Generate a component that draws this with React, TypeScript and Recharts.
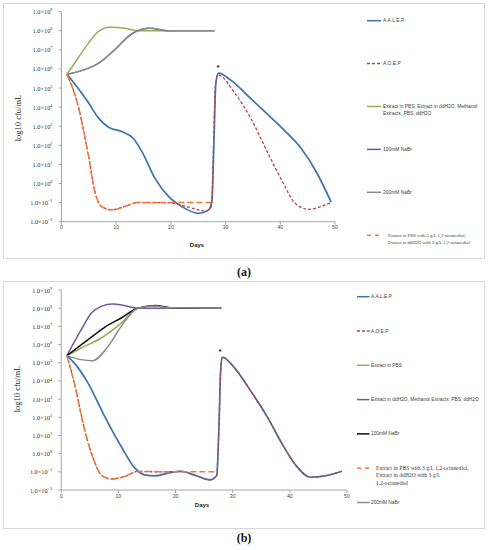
import React from "react";
import { LineChart, Line, XAxis, YAxis, ReferenceDot } from "recharts";

// x axis: days, y axis: log10 cfu/mL (ticks drawn as 1.0×10^n)
const DAY_TICKS = [0, 10, 20, 30, 40, 50];
const LOG_TICKS = [-2, -1, 0, 1, 2, 3, 4, 5, 6, 7, 8, 9];

// ---- panel (a) ----
const aalepDaysA = [1, 3, 5, 6.7, 8.6, 11, 13.1, 14.7, 17.1, 19.6, 22, 25.1, 26.9, 27.5, 27.9, 28.2, 28.7, 31, 34.6, 37.6, 40.7, 43.8, 46.8, 49.3];
const aalepLogA = [5.72, 5.0, 4.2, 3.45, 2.95, 2.72, 2.37, 1.67, 0.27, -0.69, -1.21, -1.56, -1.38, -0.9, 2.5, 5.2, 5.78, 5.4, 4.45, 3.65, 2.8, 1.85, 0.5, -0.98];

const aoepDaysA = [1, 3, 4.9, 6.1, 7.3, 9.2, 11.6, 13.8, 17, 20, 23, 26.5, 27.4, 27.8, 28.1, 28.6, 31.5, 34.6, 37.6, 40.7, 42.3, 43.8, 45.3, 47, 49.3];
const aoepLogA = [5.72, 4.11, 1.5, -0.42, -1.2, -1.38, -1.2, -1.0, -1.0, -1.02, -1.22, -1.45, -1.2, 2.0, 5.0, 5.69, 4.81, 3.42, 1.67, -0.07, -0.9, -1.25, -1.35, -1.25, -0.98];

const extractsDaysA = [1, 3, 4.9, 6.7, 8.8, 11.6, 14, 17, 21];
const extractsLogA = [5.72, 6.56, 7.34, 7.95, 8.18, 8.13, 8.0, 8.0, 8.0];

const nabr100DaysA = [1, 4.8, 7, 9.7, 13, 16.2, 19.5, 28];
const nabr100LogA = [5.72, 6.03, 6.35, 7.0, 7.87, 8.13, 8.0, 8.0];

const nabr200DaysA = [1, 4.8, 7, 9.7, 13, 16.2, 19.5, 28];
const nabr200LogA = [5.72, 6.03, 6.35, 7.0, 7.87, 8.13, 8.0, 8.0];

const octDaysA = [1, 3, 4.9, 6.1, 7.3, 9.2, 11.6, 13.8, 20, 27.5];
const octLogA = [5.72, 4.11, 1.5, -0.42, -1.2, -1.38, -1.2, -1.0, -1.0, -1.0];

// ---- panel (b) ----
const aalepDaysB = [1, 2.3, 4.7, 7.6, 10.5, 12.9, 14.6, 16.4, 18.7, 21, 23.5, 26, 27.2, 27.6, 27.9, 28.2, 30.1, 33, 36, 38.9, 41.2, 43.6, 45.9, 49.1];
const aalepLogB = [5.39, 4.98, 3.88, 2.05, 0.39, -0.8, -1.17, -1.22, -1.07, -0.98, -1.2, -1.44, -1.2, 1.5, 4.6, 5.31, 4.8, 3.52, 2.05, 0.4, -0.7, -1.3, -1.24, -0.97];

const aoepDaysB = [1, 2.3, 4.1, 5.8, 7, 8.8, 11.1, 13.4, 17, 21, 23.5, 26, 27.2, 27.6, 27.9, 28.2, 30.1, 33, 36, 38.9, 41.2, 43.6, 45.9, 49.1];
const aoepLogB = [5.39, 3.88, 1.31, -0.43, -1.17, -1.4, -1.26, -0.98, -1.0, -0.98, -1.2, -1.44, -1.2, 1.5, 4.6, 5.31, 4.8, 3.52, 2.05, 0.4, -0.7, -1.3, -1.24, -0.97];

const pbsDaysB = [1, 3.5, 7, 10.5, 13.4, 16.5, 19, 28];
const pbsLogB = [5.39, 5.81, 6.36, 7.18, 8.0, 8.1, 8.02, 8.0];

const ddh2oDaysB = [1, 3.5, 5.3, 7, 9, 11, 13.4, 20, 28];
const ddh2oLogB = [5.39, 6.82, 7.73, 8.1, 8.23, 8.15, 8.0, 8.0, 8.0];

const nabr100DaysB = [1, 4.7, 7.6, 10.5, 13.4, 16.5, 19, 28];
const nabr100LogB = [5.39, 6.27, 6.95, 7.46, 8.0, 8.15, 8.03, 8.0];

const nabr200DaysB = [1, 3.5, 5.5, 8.2, 10.5, 13.4, 16.5, 19, 28];
const nabr200LogB = [5.39, 5.17, 5.11, 5.9, 7.0, 8.0, 8.12, 8.02, 8.0];

const octDaysB = [1, 2.3, 4.1, 5.8, 7, 8.8, 11.1, 13.4, 20, 27.2];
const octLogB = [5.39, 3.88, 1.31, -0.43, -1.17, -1.4, -1.26, -0.98, -1.0, -1.0];

// asterisk over the re-inoculation peak
const starA = { day: 28.6, log: 6.1 };
const starB = { day: 27.8, log: 5.6 };

const C = {
  blue: "#3A73B0",
  red: "#B8453E",
  green: "#8DB255",
  purple: "#7458A0",
  gray: "#8C8C8C",
  orange: "#EA7A35",
  black: "#111111",
};
const RED_DASH = "3 2";
const ORANGE_DASH = "6 3";

type Pt = { day: number; log: number };
const zip = (days: number[], logs: number[]): Pt[] =>
  days.map((d, i) => ({ day: d, log: logs[i] }));

type Series = { key: string; data: Pt[]; color: string; dash?: string; width?: number };

const seriesA: Series[] = [
  { key: "extracts", data: zip(extractsDaysA, extractsLogA), color: C.green },
  { key: "nabr100", data: zip(nabr100DaysA, nabr100LogA), color: C.purple },
  { key: "nabr200", data: zip(nabr200DaysA, nabr200LogA), color: C.gray },
  { key: "aalep", data: zip(aalepDaysA, aalepLogA), color: C.blue, width: 1.7 },
  { key: "aoep", data: zip(aoepDaysA, aoepLogA), color: C.red, dash: RED_DASH, width: 1.3 },
  { key: "oct", data: zip(octDaysA, octLogA), color: C.orange, dash: ORANGE_DASH },
];

const seriesB: Series[] = [
  { key: "ddh2o", data: zip(ddh2oDaysB, ddh2oLogB), color: C.purple },
  { key: "pbs", data: zip(pbsDaysB, pbsLogB), color: C.green },
  { key: "nabr100", data: zip(nabr100DaysB, nabr100LogB), color: C.black },
  { key: "nabr200", data: zip(nabr200DaysB, nabr200LogB), color: C.gray },
  { key: "aalep", data: zip(aalepDaysB, aalepLogB), color: C.blue, width: 1.7 },
  { key: "aoep", data: zip(aoepDaysB, aoepLogB), color: C.red, dash: RED_DASH, width: 1.3 },
  { key: "oct", data: zip(octDaysB, octLogB), color: C.orange, dash: ORANGE_DASH },
];

type LegendItem = { lines: string[]; color: string; dash?: string; serif?: boolean };

const legendA: LegendItem[] = [
  { lines: ["A.A.L.E.P"], color: C.blue },
  { lines: ["A.O.E.P"], color: C.red, dash: RED_DASH },
  { lines: ["Extract in PBS, Extract in ddH2O, Methanol", "Extracts, PBS, ddH2O"], color: C.green },
  { lines: ["100mM NaBr"], color: C.purple },
  { lines: ["200mM NaBr"], color: C.gray },
  {
    lines: ["Extract in PBS with 3 g/L 1,2-octanediol,", "Extract in ddH2O with 3 g/L 1,2-octanediol"],
    color: C.orange,
    dash: "4 4",
    serif: true,
  },
];

const legendB: LegendItem[] = [
  { lines: ["A.A.L.E.P"], color: C.blue },
  { lines: ["A.O.E.P"], color: C.red, dash: RED_DASH },
  { lines: ["Extract in PBS"], color: C.green },
  { lines: ["Extract in ddH2O, Methanol Extracts, PBS, ddH2O"], color: C.purple },
  { lines: ["100mM NaBr"], color: C.black },
  {
    lines: ["Extract in PBS with 3 g/L 1,2-octanediol,", "Extract in ddH2O with 3 g/L", "1,2-octanediol"],
    color: C.orange,
    dash: "4 4",
    serif: true,
  },
  { lines: ["200mM NaBr"], color: C.gray },
];

const SANS = "'Liberation Sans', Arial, sans-serif";
const SERIF = "'Liberation Serif', 'Times New Roman', serif";
const AXIS = "#A6A6A6";

function LogTick({ x, y, payload }: any) {
  const e = payload.value as number;
  return (
    <text x={x} y={y} textAnchor="end" dominantBaseline="central" fontFamily={SERIF} fontSize={6.3} fill="#333">
      1.0×10
      <tspan dy={-2.4} fontSize={4.3}>{e < 0 ? `\u2212${-e}` : e}</tspan>
    </text>
  );
}

function Star(props: any) {
  return (
    <text x={props.cx} y={props.cy} textAnchor="middle" dominantBaseline="central" fontFamily={SANS} fontSize={8} fontWeight="bold" fill="#222">
      *
    </text>
  );
}

function Panel({ width, height, margin, yWidth, xHeight, series, star }: any) {
  return (
    <LineChart width={width} height={height} margin={margin}>
      <XAxis
        dataKey="day"
        type="number"
        domain={[0, 50]}
        ticks={DAY_TICKS}
        height={xHeight}
        tick={{ fontSize: 5.2, fill: "#444", fontFamily: SANS }}
        tickSize={3}
        tickMargin={1}
        axisLine={{ stroke: AXIS }}
        tickLine={{ stroke: AXIS }}
      />
      <YAxis
        type="number"
        domain={[-2, 9]}
        ticks={LOG_TICKS}
        width={yWidth}
        tick={<LogTick />}
        tickSize={3}
        tickMargin={6}
        axisLine={{ stroke: AXIS }}
        tickLine={{ stroke: AXIS }}
        interval={0}
      />
      {series.map((s: Series) => (
        <Line
          key={s.key}
          data={s.data}
          dataKey="log"
          type="monotone"
          stroke={s.color}
          strokeWidth={s.width ?? 1.5}
          strokeDasharray={s.dash}
          dot={false}
          activeDot={false}
          isAnimationActive={false}
        />
      ))}
      <ReferenceDot x={star.day} y={star.log} r={0} shape={Star} />
    </LineChart>
  );
}

function Legend({ items, width, height, lineX, lineLen, textX, serifX, first, step, size, serifSize, serifLead }: any) {
  return (
    <svg width={width} height={height} style={{ position: "absolute", left: 0, top: 0, overflow: "visible" }}>
      {items.map((it: LegendItem, i: number) => {
        const y = first + i * step;
        const fs = it.serif ? serifSize : size;
        const lead = it.serif ? serifLead : size * 1.35;
        return (
          <g key={i}>
            <line x1={lineX} x2={lineX + lineLen} y1={y} y2={y} stroke={it.color} strokeWidth={1.5} strokeDasharray={it.dash} />
            {it.lines.map((t, j) => (
              <text
                key={j}
                x={it.serif ? serifX : textX}
                y={y + j * lead}
                dominantBaseline="central"
                fontFamily={it.serif ? SERIF : SANS}
                fontSize={fs}
                fill="#404040"
              >
                {t}
              </text>
            ))}
          </g>
        );
      })}
    </svg>
  );
}

const frame: React.CSSProperties = { position: "absolute", border: "1px solid #D9D9D9", boxSizing: "border-box" };
const abs: React.CSSProperties = { position: "absolute" };

export default function App() {
  return (
    <div style={{ position: "absolute", left: 0, top: 0, width: 488, height: 550, background: "#fff", overflow: "hidden" }}>
      {/* panel (a) */}
      <div style={{ ...frame, left: 3, top: 3, width: 482, height: 256 }} />
      <div style={{ ...abs, left: 3, top: 3 }}>
        <Panel
          width={481}
          height={255}
          margin={{ top: 8.7, right: 149, bottom: 0, left: 0 }}
          yWidth={58.5}
          xHeight={36.3}
          series={seriesA}
          star={starA}
        />
      </div>
      <div style={{ ...abs, left: 18, top: 118, transform: "translate(-50%, -50%) rotate(-90deg)", whiteSpace: "nowrap", fontFamily: SERIF, fontSize: 8.5, color: "#222" }}>
        log10 cfu/mL
      </div>
      <div style={{ ...abs, left: 197, top: 245, transform: "translate(-50%, -50%)", fontFamily: SANS, fontSize: 6, fontWeight: "bold", color: "#222" }}>
        Days
      </div>
      <Legend
        items={legendA}
        width={488}
        height={260}
        lineX={367}
        lineLen={14}
        textX={383}
        serifX={388}
        first={20.7}
        step={42.9}
        size={4.9}
        serifSize={4.7}
        serifLead={7.2}
      />
      <div style={{ ...abs, left: 244, top: 272, transform: "translate(-50%, -50%)", fontFamily: SERIF, fontSize: 12, fontWeight: "bold", color: "#111" }}>
        (a)
      </div>

      {/* panel (b) */}
      <div style={{ ...frame, left: 3, top: 281, width: 482, height: 248 }} />
      <div style={{ ...abs, left: 3, top: 281 }}>
        <Panel
          width={481}
          height={247}
          margin={{ top: 9, right: 137, bottom: 0, left: 0 }}
          yWidth={58.2}
          xHeight={38}
          series={seriesB}
          star={starB}
        />
      </div>
      <div style={{ ...abs, left: 17, top: 389, transform: "translate(-50%, -50%) rotate(-90deg)", whiteSpace: "nowrap", fontFamily: SERIF, fontSize: 8.5, color: "#222" }}>
        log10 cfu/mL
      </div>
      <div style={{ ...abs, left: 202, top: 505, transform: "translate(-50%, -50%)", fontFamily: SANS, fontSize: 6, fontWeight: "bold", color: "#222" }}>
        Days
      </div>
      <Legend
        items={legendB}
        width={488}
        height={550}
        lineX={357}
        lineLen={12.5}
        textX={371}
        serifX={376}
        first={296.7}
        step={34.3}
        size={4.8}
        serifSize={5.6}
        serifLead={7.2}
      />
      <div style={{ ...abs, left: 244, top: 538, transform: "translate(-50%, -50%)", fontFamily: SERIF, fontSize: 12, fontWeight: "bold", color: "#111" }}>
        (b)
      </div>
    </div>
  );
}
